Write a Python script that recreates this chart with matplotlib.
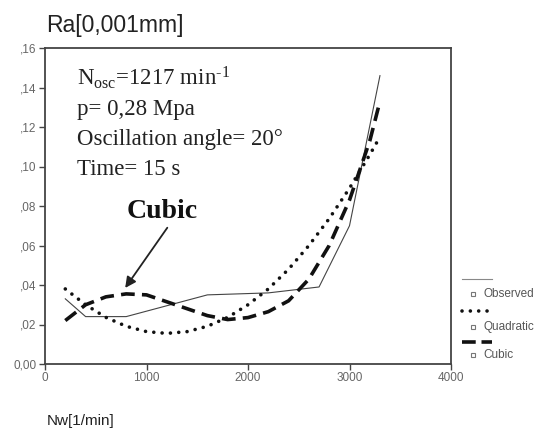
import matplotlib
matplotlib.use("Agg")
import matplotlib.pyplot as plt
from matplotlib.lines import Line2D
from matplotlib.patches import Rectangle

# ---- data ----
obs_x = [200, 400, 800, 1600, 2200, 2700, 3000, 3300]
obs_y = [0.033, 0.024, 0.024, 0.035, 0.036, 0.039, 0.070, 0.146]

fit_x = [200, 400, 600, 800, 1000, 1200, 1400, 1600, 1800, 2000,
         2200, 2400, 2600, 2800, 3000, 3200, 3300]
quad_y = [0.038, 0.030, 0.0236, 0.0191, 0.0164, 0.0155, 0.0164, 0.0191, 0.0236,
          0.030, 0.038, 0.048, 0.060, 0.0736, 0.089, 0.106, 0.115]
cubic_y = [0.022, 0.030, 0.034, 0.0355, 0.035, 0.0315, 0.028, 0.0245, 0.0225,
           0.0235, 0.0265, 0.032, 0.043, 0.060, 0.083, 0.113, 0.133]

x_ticks = [0, 1000, 2000, 3000, 4000]
y_ticks = [0.00, 0.02, 0.04, 0.06, 0.08, 0.10, 0.12, 0.14, 0.16]
y_ticklabels = ["0,00", ",02", ",04", ",06", ",08", ",10", ",12", ",14", ",16"]
series_names = ["Observed", "Quadratic", "Cubic"]

plt.rcParams['mathtext.fontset'] = 'custom'
plt.rcParams['mathtext.rm'] = 'Liberation Serif'
plt.rcParams['mathtext.it'] = 'Liberation Serif:italic'

W, H = 539, 430
fig = plt.figure(figsize=(W / 100, H / 100), dpi=100)
fig.patch.set_facecolor('white')

def fx(px):
    return px / W

def fy(py):
    return 1 - py / H

L, R, T, B = 45, 451, 48, 364
ax = fig.add_axes([fx(L), fy(B), fx(R) - fx(L), fy(T) - fy(B)])

ax.plot(obs_x, obs_y, color='#444444', lw=0.8, solid_joinstyle='miter')
ax.plot(fit_x, quad_y, color='#111111', lw=2.6, linestyle=(0, (0.01, 2.3)),
        dash_capstyle='round')
ax.plot(fit_x, cubic_y, color='#111111', lw=2.6, linestyle=(0, (3.8, 2.0)),
        dash_capstyle='butt')

ax.set_xlim(0, 4000)
ax.set_ylim(0, 0.16)
ax.set_xticks(x_ticks)
ax.set_xticklabels([str(t) for t in x_ticks])
ax.set_yticks(y_ticks)
ax.set_yticklabels(y_ticklabels)
ax.tick_params(direction='out', length=4, width=1, color='#444444',
               labelsize=8.5, labelcolor='#666666', pad=2)
for lab in ax.get_xticklabels() + ax.get_yticklabels():
    lab.set_family('Liberation Sans')
for s in ax.spines.values():
    s.set_color('#444444')
    s.set_linewidth(1.3)

# annotation arrow and label
ax.annotate('', xy=(790, 0.0385), xytext=(1205, 0.069),
            arrowprops=dict(arrowstyle='-|>', lw=1.3, color='#222222',
                            mutation_scale=16, shrinkA=0, shrinkB=0))
ax.text(1156, 0.077, 'Cubic', ha='center', va='center', fontsize=20,
        fontweight='bold', family='Liberation Serif', color='#111111')

# parameter text block
lines = ["N$_{\\rm osc}$=1217 min$^{\\rm{\u2010}1}$", "p= 0,28 Mpa",
         "Oscillation angle= 20°", "Time= 15 s"]
for i, t in enumerate(lines):
    fig.text(fx(77), fy(85 + 30 * i), t, ha='left', va='baseline',
             fontsize=16.5, family='Liberation Serif', color='#222222')

# titles
fig.text(fx(46), fy(32), 'Ra[0,001mm]', ha='left', va='baseline',
         fontsize=16.5, family='Liberation Sans', color='#222222')
fig.text(fx(47), fy(425), 'Nw[1/min]', ha='left', va='baseline',
         fontsize=11, family='Liberation Sans', color='#222222')

# legend (manual)
styles = [dict(color='#888888', lw=0.8, linestyle='-'),
          dict(color='#111111', lw=2.6, linestyle=(0, (0.01, 2.3)), dash_capstyle='round'),
          dict(color='#111111', lw=2.6, linestyle=(0, (3.8, 1.6)), dash_capstyle='butt')]
line_y = [279, 311, 342]
text_y = [294, 327, 355]
for name, st, ly, ty in zip(series_names, styles, line_y, text_y):
    fig.add_artist(Line2D([fx(462), fx(492)], [fy(ly), fy(ly)],
                          transform=fig.transFigure, **st))
    fig.add_artist(Rectangle((fx(471), fy(ty + 2)), 4 / W, 4 / H,
                             transform=fig.transFigure, fill=False,
                             edgecolor='#777777', lw=0.8))
    fig.text(fx(483), fy(ty), name, ha='left', va='center', fontsize=8.5,
             family='Liberation Sans', color='#555555')

fig.savefig('out.png', dpi=100, facecolor='white')
